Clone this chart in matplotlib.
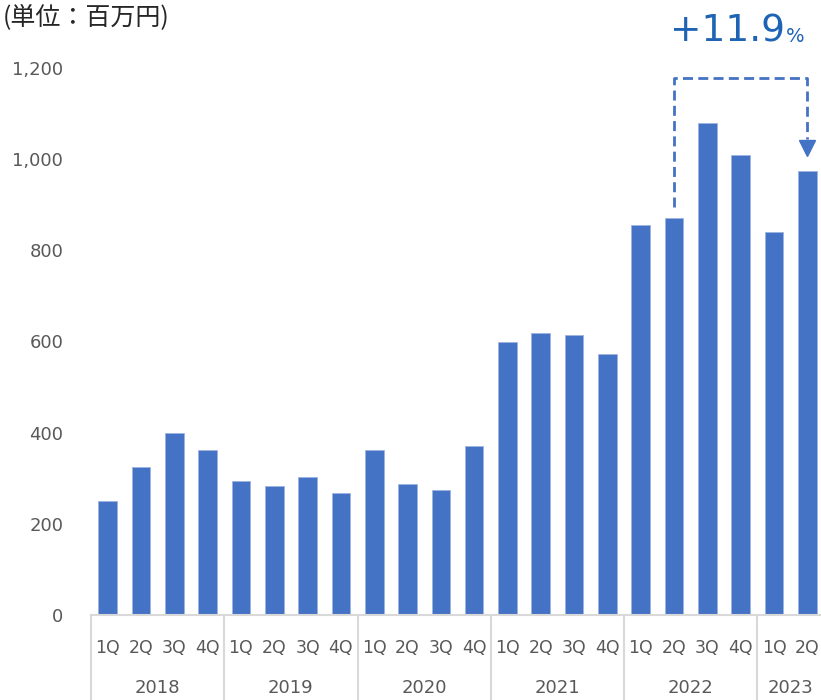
import numpy as np
import matplotlib.pyplot as plt
import matplotlib.transforms as mtransforms

years = ['2018', '2019', '2020', '2021', '2022', '2023']
quarters_per_year = [4, 4, 4, 4, 4, 2]
quarter_labels = ['1Q', '2Q', '3Q', '4Q']
values = [249, 324, 400, 361,
          293, 284, 302, 267,
          361, 287, 274, 370,
          600, 619, 615, 573,
          856, 870, 1079, 1009,
          840, 974]
yticks = [0, 200, 400, 600, 800, 1000, 1200]
growth_text = '+11.9'

bar_color = '#4472C4'
gray = '#595959'
line_gray = '#D9D9D9'

W, H = 821, 700
fig = plt.figure(figsize=(W / 100, H / 100), dpi=100)
ax = fig.add_axes([91 / W, 85 / H, 733 / W, (615 - 68) / H])

x = np.arange(len(values))
ax.bar(x, values, width=0.56, color=bar_color, edgecolor='#9DB4E0', linewidth=0.6)

ax.set_xlim(-0.5, len(values) - 0.5)
ax.set_ylim(0, 1200)
ax.set_yticks(yticks)
ax.set_yticklabels([f'{v:,}' for v in yticks], fontsize=13, color=gray)
ax.tick_params(axis='y', length=0, pad=20)
for s in ['top', 'right', 'left']:
    ax.spines[s].set_visible(False)
ax.spines['bottom'].set_color(line_gray)
ax.spines['bottom'].set_linewidth(1.5)

# quarter labels via ticks
qlabels = []
for n in quarters_per_year:
    qlabels += quarter_labels[:n]
ax.set_xticks(x)
ax.set_xticklabels(qlabels, fontsize=12.5, color=gray)
ax.tick_params(axis='x', length=0, pad=17)

# year labels and separators
trans = mtransforms.blended_transform_factory(ax.transData, ax.transAxes)
start = 0
bounds = [-0.5]
for yr, n in zip(years, quarters_per_year):
    center = start + (n - 1) / 2
    ax.text(center, -73 / 547, yr, transform=trans, ha='center', va='center',
            fontsize=13, color=gray)
    start += n
    bounds.append(start - 0.5)
for b in bounds[:-1]:
    ax.plot([b, b], [0, -90 / 547], transform=trans, color=line_gray, lw=1.5,
            clip_on=False)

# growth bracket
i0, i1 = 17, 21
top = 1178
ax.plot([i0, i0, i1, i1], [values[i0] + 25, top, top, values[i1] + 70],
        color=bar_color, lw=2, ls=(0, (3.6, 1.9)), clip_on=False)
ax.plot([i1], [values[i1] + 50], marker='v', markersize=12, color=bar_color,
        clip_on=False)

fig.text(785 / W, 1 - 42 / H, growth_text, ha='right', va='baseline',
         fontsize=27, color='#1F63B5')
fig.text(786 / W, 1 - 42 / H, '%', ha='left', va='baseline',
         fontsize=14, color='#1F63B5')

fig.text(3 / W, 1 - 17 / H, '(単位：百万円)', ha='left', va='center',
         fontsize=18, color='#262626',
         family=['Noto Sans CJK JP', 'DejaVu Sans'])

fig.savefig('out.png', dpi=100)
